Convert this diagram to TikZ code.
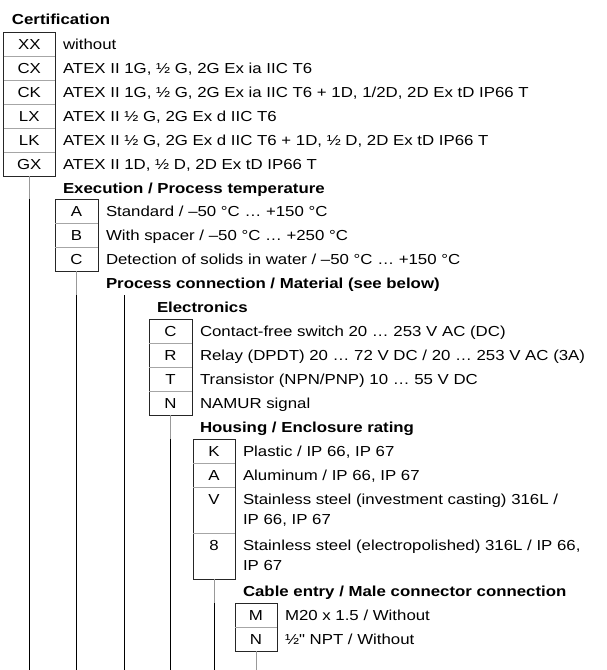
\documentclass[tikz,border=0pt]{standalone}
\usepackage{fontspec}
\setmainfont{Liberation Sans}[FakeStretch=1.16, Ligatures=TeXOff]
\begin{document}
\begin{tikzpicture}[x=1pt,y=-1pt,
  every node/.style={inner sep=0pt, outer sep=0pt, font=\fontsize{14.5}{16}\selectfont},
  cell/.style={anchor=north, minimum width=#1, text height=17pt, text depth=7pt},
  tallcell/.style={anchor=north, minimum width=#1, text height=17pt, text depth=29pt},
  desc/.style={anchor=base west},
  ttl/.style={anchor=base west, font=\fontsize{14.5}{16}\selectfont\bfseries},
  frame/.style={draw=black!85, line width=0.9pt},
  sep/.style={draw=black!35, line width=0.6pt},
  stub/.style={draw=black!40, line width=0.8pt},
  vline/.style={draw=black, line width=0.9pt}]
\useasboundingbox (0,0) rectangle (606,670);
\coordinate (bot) at (0,670);

% Certification
\node[ttl] (tCert) at (12,24) {Certification};
\node[cell=51.5] (cXX) at (29.25,32) {XX};
\node[cell=51.5] (cCX) at (cXX.south) {CX};
\node[cell=51.5] (cCK) at (cCX.south) {CK};
\node[cell=51.5] (cLX) at (cCK.south) {LX};
\node[cell=51.5] (cLK) at (cLX.south) {LK};
\node[cell=51.5] (cGX) at (cLK.south) {GX};
\draw[frame] (cXX.north west) rectangle (cGX.south east);
\foreach \r in {cXX,cCX,cCK,cLX,cLK} \draw[sep] (\r.south west) -- (\r.south east);
\node[desc] (dXX) at ([xshift=8pt]cXX.base east) {without};
\node[desc] (dCX) at ([xshift=8pt]cCX.base east) {ATEX II 1G, ½ G, 2G Ex ia IIC T6};
\node[desc] (dCK) at ([xshift=8pt]cCK.base east) {ATEX II 1G, ½ G, 2G Ex ia IIC T6 + 1D, 1/2D, 2D Ex tD IP66 T};
\node[desc] (dLX) at ([xshift=8pt]cLX.base east) {ATEX II ½ G, 2G Ex d IIC T6};
\node[desc] (dLK) at ([xshift=8pt]cLK.base east) {ATEX II ½ G, 2G Ex d IIC T6 + 1D, ½ D, 2D Ex tD IP66 T};
\node[desc] (dGX) at ([xshift=8pt]cGX.base east) {ATEX II 1D, ½ D, 2D Ex tD IP66 T};

% Execution
\node[ttl] (tExec) at (63,193) {Execution / Process temperature};
\node[cell=43] (eA) at (76.5,199) {A};
\node[cell=43] (eB) at (eA.south) {B};
\node[cell=43] (eC) at (eB.south) {C};
\draw[frame] (eA.north west) rectangle (eC.south east);
\foreach \r in {eA,eB} \draw[sep] (\r.south west) -- (\r.south east);
\node[desc] (deA) at ([xshift=8pt]eA.base east) {Standard / –50 °C … +150 °C};
\node[desc] (deB) at ([xshift=8pt]eB.base east) {With spacer / –50 °C … +250 °C};
\node[desc] (deC) at ([xshift=8pt]eC.base east) {Detection of solids in water / –50 °C … +150 °C};

% Process connection
\node[ttl] (tProc) at (106,288) {Process connection / Material (see below)};
\coordinate (ptop) at (124,295);

% Electronics
\node[ttl] (tElec) at (157,312) {Electronics};
\node[cell=43] (lC) at (170.5,319) {C};
\node[cell=43] (lR) at (lC.south) {R};
\node[cell=43] (lT) at (lR.south) {T};
\node[cell=43] (lN) at (lT.south) {N};
\draw[frame] (lC.north west) rectangle (lN.south east);
\foreach \r in {lC,lR,lT} \draw[sep] (\r.south west) -- (\r.south east);
\node[desc] (dlC) at ([xshift=8pt]lC.base east) {Contact-free switch 20 … 253 V AC (DC)};
\node[desc] (dlR) at ([xshift=8pt]lR.base east) {Relay (DPDT) 20 … 72 V DC / 20 … 253 V AC (3A)};
\node[desc] (dlT) at ([xshift=8pt]lT.base east) {Transistor (NPN/PNP) 10 … 55 V DC};
\node[desc] (dlN) at ([xshift=8pt]lN.base east) {NAMUR signal};

% Housing
\node[ttl] (tHous) at (200,432) {Housing / Enclosure rating};
\node[cell=42] (hK) at (214,439) {K};
\node[cell=42] (hA) at (hK.south) {A};
\node[tallcell=42] (hV) at (hA.south) {V};
\node[tallcell=42] (h8) at (hV.south) {8};
\draw[frame] (hK.north west) rectangle (h8.south east);
\foreach \r in {hK,hA,hV} \draw[sep] (\r.south west) -- (\r.south east);
\node[desc] (dhK) at ([xshift=8pt]hK.base east) {Plastic / IP 66, IP 67};
\node[desc] (dhA) at ([xshift=8pt]hA.base east) {Aluminum / IP 66, IP 67};
\node[desc] (dhV) at ([xshift=8pt]hV.base east) {Stainless steel (investment casting) 316L /};
\node[desc] (dhVb) at ([yshift=-20.5pt]dhV.base west) {IP 66, IP 67};
\node[desc] (dh8) at ([xshift=8pt]h8.base east) {Stainless steel (electropolished) 316L / IP 66,};
\node[desc] (dh8b) at ([yshift=-20.5pt]dh8.base west) {IP 67};

% Cable entry
\node[ttl] (tCab) at (243,596) {Cable entry / Male connector connection};
\node[cell=42] (kM) at (256,603) {M};
\node[cell=42] (kN) at (kM.south) {N};
\draw[frame] (kM.north west) rectangle (kN.south east);
\draw[sep] (kM.south west) -- (kM.south east);
\node[desc] (dkM) at ([xshift=8pt]kM.base east) {M20 x 1.5 / Without};
\node[desc] (dkN) at ([xshift=8pt]kN.base east) {½" NPT / Without};

% connector lines
\draw[stub] (cGX.south) -- (cGX.south |- eA.north);
\draw[vline] (cGX.south |- eA.north) -- (cGX.south |- bot);
\draw[stub] (eC.south) -- (eC.south |- ptop);
\draw[vline] (eC.south |- ptop) -- (eC.south |- bot);
\draw[vline] (ptop) -- (ptop |- bot);
\draw[stub] (lN.south) -- (lN.south |- hK.north);
\draw[vline] (lN.south |- hK.north) -- (lN.south |- bot);
\draw[stub] (h8.south) -- (h8.south |- kM.north);
\draw[vline] (h8.south |- kM.north) -- (h8.south |- bot);
\draw[stub] (kN.south) -- (kN.south |- bot);
\end{tikzpicture}
\end{document}
